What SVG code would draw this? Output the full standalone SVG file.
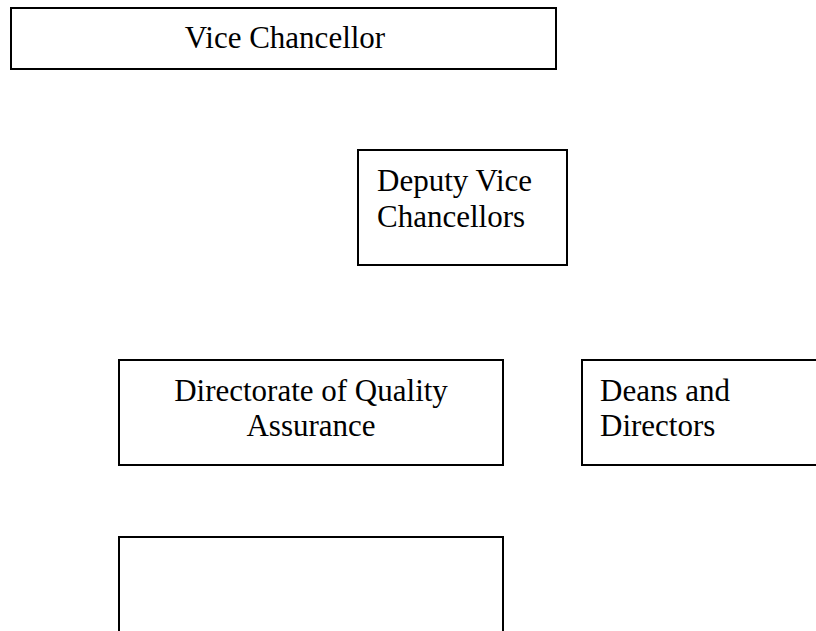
<svg xmlns="http://www.w3.org/2000/svg" width="816" height="631" viewBox="0 0 816 631">
<style>
.box{fill:#fff;stroke:#000;stroke-width:2}
.t{font-family:"Liberation Serif","Times New Roman",serif;font-size:31px;fill:#000}
.c{text-anchor:middle}
</style>
<rect width="816" height="631" fill="#fff"/>
<g id="connectors"></g>
<g id="vc"><rect class="box" x="11" y="8" width="545" height="61"/><text class="t c" x="285" y="48">Vice Chancellor</text></g>
<g id="dvc"><rect class="box" x="358" y="150" width="209" height="115"/><text class="t" x="377" y="191">Deputy Vice</text><text class="t" x="377" y="227">Chancellors</text></g>
<g id="dqa"><rect class="box" x="119" y="360" width="384" height="105"/><text class="t c" x="311" y="401">Directorate of Quality</text><text class="t c" x="311" y="436">Assurance</text></g>
<g id="deans"><rect class="box" x="582" y="360" width="250" height="105"/><text class="t" x="600" y="401">Deans and</text><text class="t" x="600" y="436">Directors</text></g>
<g id="empty"><rect class="box" x="119" y="537" width="384" height="110"/></g>
</svg>
